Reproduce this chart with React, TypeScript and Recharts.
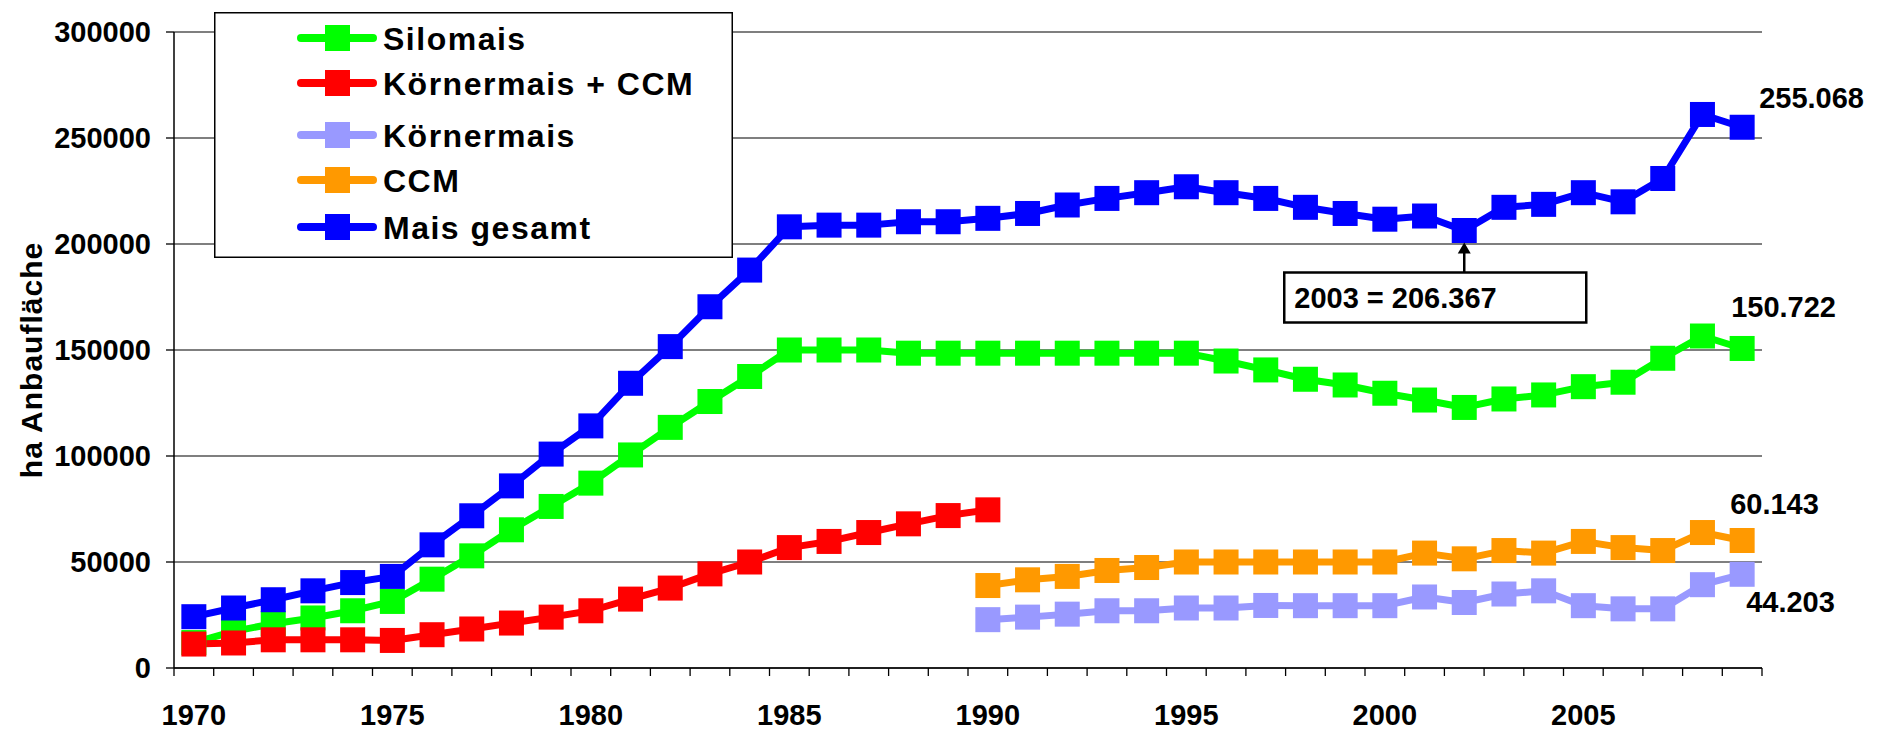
import React from "react";
import { LineChart, Line, XAxis, YAxis, CartesianGrid, Legend, LabelList } from "recharts";

// Maisanbau: Anbauflächen in ha, 1970-2009
const years = [
  1970, 1971, 1972, 1973, 1974, 1975, 1976, 1977, 1978, 1979,
  1980, 1981, 1982, 1983, 1984, 1985, 1986, 1987, 1988, 1989,
  1990, 1991, 1992, 1993, 1994, 1995, 1996, 1997, 1998, 1999,
  2000, 2001, 2002, 2003, 2004, 2005, 2006, 2007, 2008, 2009,
];

const silomais = [
  12000, 17300, 20900, 23600, 27000, 31400, 41900, 52900, 65200, 76200,
  87200, 100500, 113500, 125700, 137500, 150000, 150000, 150000, 148500, 148500,
  148500, 148500, 148500, 148500, 148500, 148500, 144800, 140600, 136200, 133500,
  129600, 126400, 122900, 126900, 128800, 132700, 134800, 146100, 156600, 150722,
];

const koernerCcm = [
  11300, 11800, 13300, 13300, 13300, 13000, 15700, 18400, 21200, 24000,
  27000, 32500, 37700, 44400, 50000, 56800, 59700, 63900, 68000, 71900,
  74600, null, null, null, null, null, null, null, null, null,
  null, null, null, null, null, null, null, null, null, null,
];

const koernermais = [
  null, null, null, null, null, null, null, null, null, null,
  null, null, null, null, null, null, null, null, null, null,
  22800, 24000, 25400, 27000, 27000, 28300, 28300, 29500, 29400, 29400,
  29400, 33500, 30900, 34900, 36400, 29400, 27900, 27900, 39300, 44203,
];

const ccm = [
  null, null, null, null, null, null, null, null, null, null,
  null, null, null, null, null, null, null, null, null, null,
  38900, 41600, 43200, 46000, 47400, 50000, 50000, 50000, 50000, 50000,
  50000, 54200, 51500, 55400, 54200, 59700, 56800, 55400, 63900, 60143,
];

const gesamt = [
  24200, 28300, 32200, 36400, 40300, 43200, 58100, 71800, 85900, 100900,
  114200, 134300, 151600, 170400, 187700, 208100, 208900, 208900, 210500, 210500,
  212100, 214400, 218400, 221500, 224200, 227000, 224200, 221500, 217300, 214400,
  211700, 213200, 206367, 217300, 218700, 224200, 219900, 230900, 261100, 255068,
];

const yTicks = [0, 50000, 100000, 150000, 200000, 250000, 300000];
const annotYear = 2002;
const annotText = "2003 = 206.367";

const data = years.map((year, i) => ({
  year,
  silomais: silomais[i],
  koernerCcm: koernerCcm[i],
  koernermais: koernermais[i],
  ccm: ccm[i],
  gesamt: gesamt[i],
}));

// category boundaries -> tick marks between the years
const boundaries = [...years.map((y) => y - 0.5), years[years.length - 1] + 0.5];

const W = 1879;
const H = 731;
const M = { top: 32, right: 117, left: 0, bottom: 0 };
const Y_W = 174;
const HALF_BAND = (W - M.right - Y_W) / years.length / 2;

const font = { fontFamily: "'Liberation Sans', Arial, sans-serif", fontWeight: 700, fill: "#000" };

const fmt = (v: number) => `${Math.floor(v / 1000)}.${String(Math.round(v % 1000)).padStart(3, "0")}`;

const series = [
  { key: "silomais", name: "Silomais", color: "#00FF00", end: [-11, -31] },
  { key: "koernerCcm", name: "Körnermais + CCM", color: "#FF0000", end: null },
  { key: "koernermais", name: "Körnermais", color: "#9999FF", end: [4, 38] },
  { key: "ccm", name: "CCM", color: "#FF9900", end: [-12, -26] },
  { key: "gesamt", name: "Mais gesamt", color: "#0000FF", end: [17, -19] },
];

const square = (color: string) => (props: any) => {
  const { cx, cy, index, value } = props;
  if (cx == null || cy == null || value == null) return <g key={`e${index}`} />;
  return <rect key={`d${index}`} x={cx - 12.5} y={cy - 12.5} width={25} height={25} fill={color} />;
};

const endLabel = (dx: number, dy: number) => (props: any) => {
  const { index, value } = props;
  const x = props.x ?? props.viewBox?.x;
  const y = props.y ?? props.viewBox?.y;
  if (index !== years.length - 1 || value == null) return null;
  return (
    <text key="end" x={x + dx} y={y + dy} fontSize={29} style={font}>
      {fmt(value)}
    </text>
  );
};

const annotation = (props: any) => {
  const { index } = props;
  const x = props.x ?? props.viewBox?.x;
  const y = props.y ?? props.viewBox?.y;
  if (index !== years.indexOf(annotYear)) return null;
  return (
    <g key="annot">
      <rect x={x - 180} y={y + 42} width={302} height={50} fill="#fff" stroke="#000" strokeWidth={2.5} />
      <line x1={x} y1={y + 42} x2={x} y2={y + 21} stroke="#000" strokeWidth={2.5} />
      <path d={`M${x} ${y + 12} L${x - 6.5} ${y + 23} L${x + 6.5} ${y + 23} Z`} fill="#000" />
      <text x={x - 170} y={y + 77} fontSize={29} style={font}>{annotText}</text>
    </g>
  );
};

const YearTick = (props: any) => {
  const { x, y, payload } = props;
  const year = payload.value + 0.5;
  if (year % 5 !== 0 || year > years[years.length - 1]) return <g />;
  return (
    <text x={x + HALF_BAND} y={y + 47} textAnchor="middle" fontSize={29} style={font}>
      {year}
    </text>
  );
};

const legendRows = [26, 71, 123, 168, 215];

const LegendBox = (props: any) => {
  const payload = props.payload || [];
  // keep the series order, not recharts' sorted order
  const items = series
    .map((s) => payload.find((p: any) => p.dataKey === s.key))
    .filter(Boolean);
  return (
    <svg width={519} height={246} style={{ display: "block" }}>
      <rect x={0.75} y={0.75} width={517.5} height={244.5} fill="#fff" stroke="#000" strokeWidth={1.5} />
      {items.map((p: any, i: number) => {
        const cy = legendRows[i];
        return (
          <g key={p.value}>
            <line x1={87} y1={cy} x2={159} y2={cy} stroke={p.color} strokeWidth={8} strokeLinecap="round" />
            <rect x={111} y={cy - 13} width={25} height={26} fill={p.color} />
            <text x={169} y={cy + 11.5} fontSize={32} letterSpacing={1.5} style={font}>
              {p.value}
            </text>
          </g>
        );
      })}
    </svg>
  );
};

export default function App() {
  return (
    <div style={{ position: "absolute", left: 0, top: 0, width: W, height: H, background: "#fff" }}>
      <LineChart width={W} height={H} data={data} margin={M}>
        <CartesianGrid horizontal vertical={false} stroke="#555" strokeWidth={1.3} />
        <XAxis
          dataKey="year"
          type="number"
          domain={[boundaries[0], boundaries[boundaries.length - 1]]}
          ticks={boundaries}
          interval={0}
          height={63}
          tickSize={8}
          axisLine={{ stroke: "#000", strokeWidth: 1.5 }}
          tickLine={{ stroke: "#000", strokeWidth: 1.3 }}
          tick={<YearTick />}
        />
        <YAxis
          type="number"
          domain={[0, 300000]}
          ticks={yTicks}
          interval={0}
          width={Y_W}
          tickSize={8}
          tickMargin={15}
          axisLine={{ stroke: "#000", strokeWidth: 1.5 }}
          tickLine={{ stroke: "#000", strokeWidth: 1.3 }}
          tick={{ ...font, fontSize: 29 }}
          label={{
            content: () => (
              <text x={42} y={360} transform="rotate(-90 42 360)" textAnchor="middle" fontSize={30} letterSpacing={1} style={font}>
                ha Anbaufläche
              </text>
            ),
          }}
        />
        <Legend
          layout="horizontal"
          verticalAlign="middle"
          align="center"
          width={519}
          height={246}
          wrapperStyle={{ left: 214, top: 12, width: 519, height: 246 }}
          content={<LegendBox />}
        />
        {series.map((s) => (
          <Line
            key={s.key}
            dataKey={s.key}
            name={s.name}
            type="linear"
            stroke={s.color}
            strokeWidth={7}
            strokeLinejoin="round"
            dot={square(s.color)}
            activeDot={false}
            connectNulls={false}
            isAnimationActive={false}
          >
            {s.end && <LabelList dataKey={s.key} content={endLabel(s.end[0], s.end[1])} />}
            {s.key === "gesamt" && <LabelList dataKey={s.key} content={annotation} />}
          </Line>
        ))}
      </LineChart>
    </div>
  );
}
